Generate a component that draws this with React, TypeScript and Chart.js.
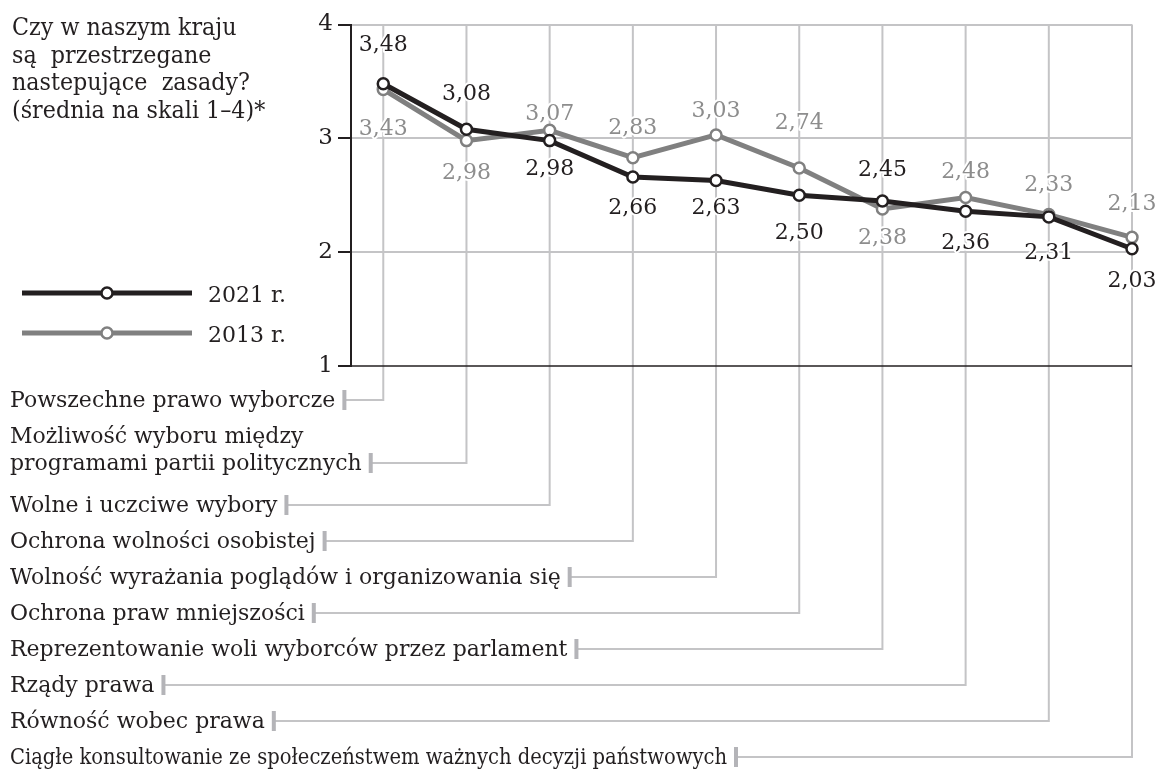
import React, { useEffect, useRef } from "react";
import { Chart, registerables } from "chart.js";

Chart.register(...registerables);

// ---------- DATA ----------
const titleLines = [
  "Czy w naszym kraju",
  "są  przestrzegane",
  "nastepujące  zasady?",
  "(średnia na skali 1–4)*",
];

const categories: string[][] = [
  ["Powszechne prawo wyborcze"],
  ["Możliwość wyboru między", "programami partii politycznych"],
  ["Wolne i uczciwe wybory"],
  ["Ochrona wolności osobistej"],
  ["Wolność wyrażania poglądów i organizowania się"],
  ["Ochrona praw mniejszości"],
  ["Reprezentowanie woli wyborców przez parlament"],
  ["Rządy prawa"],
  ["Równość wobec prawa"],
  ["Ciągłe konsultowanie ze społeczeństwem ważnych decyzji państwowych"],
];

const seriesNames = ["2021 r.", "2013 r."];
const values2021 = [3.48, 3.08, 2.98, 2.66, 2.63, 2.5, 2.45, 2.36, 2.31, 2.03];
const values2013 = [3.43, 2.98, 3.07, 2.83, 3.03, 2.74, 2.38, 2.48, 2.33, 2.13];
const yTickValues = [1, 2, 3, 4];

// ---------- LAYOUT / STYLE ----------
const FONT = '"DejaVu Serif", serif';
const BLACK = "#231f20";
const GRAY = "#808080";
const GRAY_TEXT = "#8d8d8d";
const GRID = "#c4c4c6";
const LEADER_TICK = "#b4b4b8";
const LABEL_MAX_WIDTH = 717;

// vertical offset (px) of each value label centre from its point (negative = above)
const labelOffsets2021 = [-41, -37, 26, 29, 26, 36, -33, 30, 34, 30];
const labelOffsets2013 = [38, 30, -18, -32, -26, -47, 27, -28, -32, -35];

const fmt = (v: number) => v.toFixed(2).replace(".", ",");

function categoryBaselines(): number[][] {
  const out: number[][] = [];
  let y = 407;
  categories.forEach((lines, i) => {
    if (i > 0) y += categories[i - 1].length > 1 ? 42 : 36;
    const arr: number[] = [];
    lines.forEach((_, j) => {
      if (j > 0) y += 27;
      arr.push(y);
    });
    out.push(arr);
  });
  return out;
}

const decorPlugin = {
  id: "decor",
  beforeDatasetsDraw(chart: any) {
    const ctx = chart.ctx as CanvasRenderingContext2D;
    const xs = chart.scales.x;
    const area = chart.chartArea;
    const bls = categoryBaselines();
    ctx.save();
    ctx.font = `22px ${FONT}`;
    ctx.textBaseline = "alphabetic";
    ctx.textAlign = "left";
    categories.forEach((lines, i) => {
      const cx = xs.getPixelForValue(i);
      lines.forEach((line, j) => {
        ctx.fillStyle = BLACK;
        ctx.fillText(line, 10, bls[i][j], LABEL_MAX_WIDTH);
      });
      const lastLine = lines[lines.length - 1];
      const textEnd = 10 + Math.min(ctx.measureText(lastLine).width, LABEL_MAX_WIDTH);
      const ly = bls[i][lines.length - 1] - 7;
      const tickX = textEnd + 9;
      ctx.strokeStyle = GRID;
      ctx.lineWidth = 2;
      ctx.beginPath();
      ctx.moveTo(cx, area.top);
      ctx.lineTo(cx, ly);
      ctx.lineTo(tickX, ly);
      ctx.stroke();
      ctx.fillStyle = LEADER_TICK;
      ctx.fillRect(tickX - 2, ly - 10, 4, 20);
    });
    ctx.strokeStyle = BLACK;
    ctx.lineWidth = 1.5;
    ctx.beginPath();
    ctx.moveTo(area.left, area.bottom);
    ctx.lineTo(area.right, area.bottom);
    ctx.stroke();
    ctx.restore();
  },
  afterDatasetsDraw(chart: any) {
    const ctx = chart.ctx as CanvasRenderingContext2D;
    const xs = chart.scales.x;
    const ys = chart.scales.y;
    ctx.save();
    ctx.font = `22px ${FONT}`;
    ctx.textAlign = "center";
    ctx.textBaseline = "alphabetic";
    ctx.lineJoin = "round";
    const drawSet = (vals: number[], offs: number[], color: string) => {
      vals.forEach((v, i) => {
        const x = xs.getPixelForValue(i);
        const y = ys.getPixelForValue(v) + offs[i] + 8;
        ctx.strokeStyle = "#ffffff";
        ctx.lineWidth = 4;
        ctx.strokeText(fmt(v), x, y);
        ctx.fillStyle = color;
        ctx.fillText(fmt(v), x, y);
      });
    };
    drawSet(values2013, labelOffsets2013, GRAY_TEXT);
    drawSet(values2021, labelOffsets2021, BLACK);
    ctx.restore();
  },
  afterDraw(chart: any) {
    const ctx = chart.ctx as CanvasRenderingContext2D;
    ctx.save();
    // title (slightly condensed)
    ctx.font = `25px ${FONT}`;
    ctx.fillStyle = BLACK;
    ctx.textAlign = "left";
    ctx.textBaseline = "alphabetic";
    titleLines.forEach((t, i) => {
      ctx.save();
      ctx.translate(12, 35 + i * 27.7);
      ctx.scale(0.89, 1);
      ctx.fillText(t, 0, 0);
      ctx.restore();
    });
    // legend
    const legendColors = [BLACK, GRAY];
    seriesNames.forEach((name, i) => {
      const y = 293 + i * 40;
      ctx.strokeStyle = legendColors[i];
      ctx.lineWidth = 5;
      ctx.beginPath();
      ctx.moveTo(22, y);
      ctx.lineTo(192, y);
      ctx.stroke();
      ctx.beginPath();
      ctx.arc(107, y, 5.5, 0, Math.PI * 2);
      ctx.fillStyle = "#ffffff";
      ctx.fill();
      ctx.lineWidth = 2.5;
      ctx.stroke();
      ctx.font = `22px ${FONT}`;
      ctx.fillStyle = BLACK;
      ctx.fillText(name, 208, y + 9);
    });
    ctx.restore();
  },
};

export default function App() {
  const canvasRef = useRef<HTMLCanvasElement | null>(null);

  useEffect(() => {
    if (!canvasRef.current) return;
    const mk = (vals: number[]) => vals.map((v, i) => ({ x: i, y: v }));
    const chart = new Chart(canvasRef.current, {
      type: "line",
      data: {
        datasets: [
          {
            label: seriesNames[0],
            data: mk(values2021),
            borderColor: BLACK,
            borderWidth: 5,
            pointRadius: 5.5,
            pointBorderWidth: 2.5,
            pointBackgroundColor: "#ffffff",
            pointBorderColor: BLACK,
            tension: 0,
            clip: false as any,
          },
          {
            label: seriesNames[1],
            data: mk(values2013),
            borderColor: GRAY,
            borderWidth: 5,
            pointRadius: 5.5,
            pointBorderWidth: 2.5,
            pointBackgroundColor: "#ffffff",
            pointBorderColor: GRAY,
            tension: 0,
            clip: false as any,
          },
        ],
      },
      options: {
        responsive: false,
        animation: false,
        devicePixelRatio: 1,
        layout: { padding: { left: 0, top: 24.5, right: 25, bottom: 403 } },
        plugins: { legend: { display: false }, tooltip: { enabled: false } },
        scales: {
          x: {
            type: "linear",
            min: -0.388,
            max: 9,
            display: false,
          },
          y: {
            min: 1,
            max: 4,
            afterFit: (s: any) => {
              s.width = 351;
            },
            afterBuildTicks: (s: any) => {
              s.ticks = yTickValues.map((v) => ({ value: v }));
            },
            ticks: {
              font: { family: FONT, size: 23 },
              color: BLACK,
              padding: 5,
              callback: (v: any) => String(v),
            },
            grid: {
              color: (c: any) => (c.tick && c.tick.value === 1 ? "rgba(0,0,0,0)" : GRID),
              lineWidth: 2,
              tickLength: 13,
              tickColor: BLACK,
              tickWidth: 2,
            },
            border: { color: BLACK, width: 2 },
          },
        },
      },
      plugins: [decorPlugin],
    });
    return () => chart.destroy();
  }, []);

  return (
    <div style={{ position: "absolute", left: 0, top: 0, width: 1157, height: 769, background: "#ffffff" }}>
      <canvas ref={canvasRef} width={1157} height={769} style={{ display: "block" }} />
    </div>
  );
}
